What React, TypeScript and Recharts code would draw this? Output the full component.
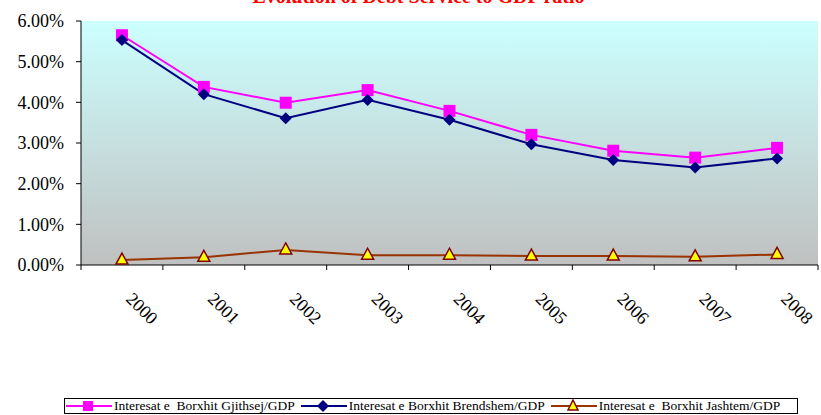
import React from 'react';
import { LineChart, Line, XAxis, YAxis, CartesianGrid } from 'recharts';

const years = ['2000', '2001', '2002', '2003', '2004', '2005', '2006', '2007', '2008'];
const totalDebt = [5.65, 4.38, 3.99, 4.30, 3.79, 3.20, 2.81, 2.64, 2.88];
const domesticDebt = [5.53, 4.20, 3.61, 4.06, 3.57, 2.97, 2.58, 2.40, 2.62];
const externalDebt = [0.12, 0.19, 0.37, 0.24, 0.24, 0.22, 0.22, 0.20, 0.26];
const yTicks = [0, 1, 2, 3, 4, 5, 6];
const seriesNames = [
  'Interesat e  Borxhit Gjithsej/GDP',
  'Interesat e Borxhit Brendshem/GDP',
  'Interesat e  Borxhit Jashtem/GDP',
];
const title = 'Evolution of Debt Service to GDP ratio';

const data = years.map((y, i) => ({
  year: y,
  total: totalDebt[i],
  domestic: domesticDebt[i],
  external: externalDebt[i],
}));

const W = 821;
const H = 415;
const X_H = 150;
const M = { top: 21, right: 3, bottom: 0, left: 0 };
const Y_W = 81;
const BAND = (W - M.left - Y_W - M.right) / years.length;
const FONT = "'Liberation Serif', 'Times New Roman', Times, 'DejaVu Serif', serif";

const SquareDot = (p: any) => {
  const { cx, cy } = p;
  if (cx == null || cy == null) return null;
  return <rect key={p.index} x={cx - 6} y={cy - 6} width={12} height={12} fill="#FF00FF" />;
};
const DiamondDot = (p: any) => {
  const { cx, cy } = p;
  if (cx == null || cy == null) return null;
  return (
    <polygon
      key={p.index}
      points={`${cx},${cy - 6} ${cx + 6},${cy} ${cx},${cy + 6} ${cx - 6},${cy}`}
      fill="#000080"
    />
  );
};
const TriDot = (p: any) => {
  const { cx, cy } = p;
  if (cx == null || cy == null) return null;
  return (
    <polygon
      key={p.index}
      points={`${cx},${cy - 7} ${cx + 6},${cy + 4} ${cx - 6},${cy + 4}`}
      fill="#FFFF00"
      stroke="#800000"
      strokeWidth={1.5}
    />
  );
};

const XTick = (p: any) => {
  const { x, y, payload, index } = p;
  return (
    <g>
      {index === 0 && <line x1={x - BAND / 2} y1={y} x2={x - BAND / 2} y2={y + 5} stroke="#000" />}
      <line x1={x + BAND / 2} y1={y} x2={x + BAND / 2} y2={y + 5} stroke="#000" />
      <text
        x={x + 3}
        y={y + 35}
        transform={`rotate(45 ${x + 3} ${y + 35})`}
        textAnchor="start"
        style={{ fontFamily: FONT, fontSize: 18 }}
        fill="#000"
      >
        {payload.value}
      </text>
    </g>
  );
};

const YTick = (p: any) => {
  const { x, y, payload } = p;
  return (
    <text x={x} y={y} dy="0.355em" textAnchor="end" style={{ fontFamily: FONT, fontSize: 18 }} fill="#000">
      {payload.value.toFixed(2) + '%'}
    </text>
  );
};

const legendMarkers = [
  <rect x={17} y={2} width={10} height={10} fill="#FF00FF" />,
  <polygon points="22,1 28,7 22,13 16,7" fill="#000080" />,
  <polygon points="22,1 27,11 17,11" fill="#FFFF00" stroke="#800000" strokeWidth={1.5} />,
];
const legendColors = ['#FF00FF', '#000080', '#993300'];

export default function App() {
  return (
    <div style={{ position: 'absolute', left: 0, top: 0, width: W, height: H, overflow: 'hidden', background: '#fff', fontFamily: FONT }}>
      <div
        style={{
          position: 'absolute',
          left: 8,
          top: -15,
          width: W,
          textAlign: 'center',
          fontFamily: FONT,
          fontWeight: 'bold',
          fontSize: 20,
          color: '#FF0000',
          whiteSpace: 'nowrap',
        }}
      >
        {title}
      </div>
      <LineChart width={W} height={H} data={data} margin={M} style={{ fontFamily: FONT }}>
        <defs>
          <linearGradient id="bgGrad" x1="0" y1="0" x2="0" y2="1">
            <stop offset="0%" stopColor="#CCFFFF" />
            <stop offset="100%" stopColor="#C0C0C0" />
          </linearGradient>
        </defs>
        <CartesianGrid horizontal={false} vertical={false} fill="url(#bgGrad)" />
        <XAxis
          dataKey="year"
          interval={0}
          tickLine={false}
          tickSize={0}
          tickMargin={0}
          padding={{ left: BAND / 2, right: BAND / 2 }}
          axisLine={{ stroke: '#000' }}
          tick={<XTick />}
          height={X_H}
        />
        <XAxis xAxisId="top" orientation="top" dataKey="year" height={0} tick={false} tickLine={false} axisLine={{ stroke: '#808080' }} />
        <YAxis
          width={Y_W}
          domain={[0, 6]}
          ticks={yTicks}
          interval={0}
          tickSize={5}
          tickMargin={12}
          tickLine={{ stroke: '#000' }}
          axisLine={{ stroke: '#000' }}
          tick={<YTick />}
        />
        <YAxis yAxisId="right" orientation="right" width={0} tick={false} tickLine={false} axisLine={{ stroke: '#808080' }} />
        <Line dataKey="total" stroke="#FF00FF" strokeWidth={2} dot={<SquareDot />} isAnimationActive={false} />
        <Line dataKey="domestic" stroke="#000080" strokeWidth={2} dot={<DiamondDot />} isAnimationActive={false} />
        <Line dataKey="external" stroke="#993300" strokeWidth={2} dot={<TriDot />} isAnimationActive={false} />
      </LineChart>
      <div
        style={{
          position: 'absolute',
          left: 64,
          top: 398,
          width: 734,
          height: 16,
          boxSizing: 'border-box',
          border: '1px solid #000',
          display: 'flex',
          alignItems: 'center',
          fontFamily: FONT,
          fontSize: 13.5,
          whiteSpace: 'pre',
          background: '#fff',
        }}
      >
        {seriesNames.map((n, i) => (
          <div key={n} style={{ display: 'flex', alignItems: 'center', marginLeft: i === 0 ? 1 : 6 }}>
            <svg width={46} height={14} style={{ display: 'block' }}>
              <line x1={0} y1={7} x2={46} y2={7} stroke={legendColors[i]} strokeWidth={2} />
              {legendMarkers[i]}
            </svg>
            <span style={{ marginLeft: 2, lineHeight: '14px' }}>{n}</span>
          </div>
        ))}
      </div>
    </div>
  );
}
